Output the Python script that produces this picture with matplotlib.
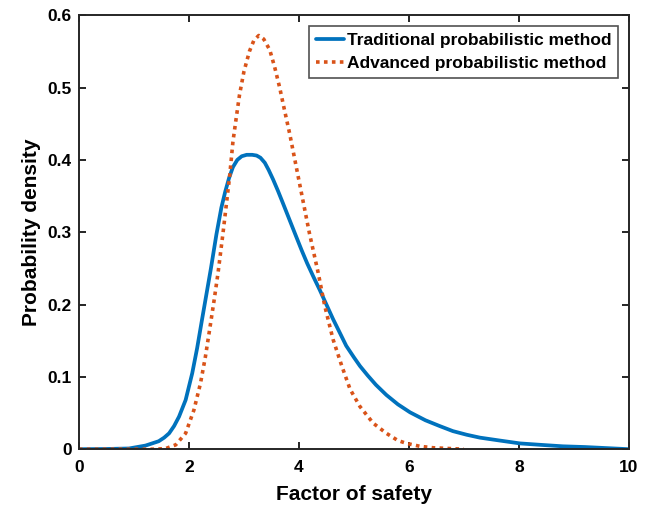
import matplotlib
matplotlib.use("Agg")
import matplotlib.pyplot as plt

plt.rcParams['font.family'] = ['Liberation Sans', 'DejaVu Sans']
plt.rcParams['font.weight'] = 'bold'

# Traditional probabilistic method
trad_x = [0.0, 0.5, 0.91, 1.21, 1.33, 1.45, 1.55, 1.64, 1.73, 1.82, 1.94, 2.06, 2.15, 2.24,
          2.32, 2.40, 2.50, 2.59, 2.66, 2.73, 2.80, 2.88, 2.96, 3.05, 3.15, 3.23, 3.30,
          3.38, 3.45, 3.53, 3.62, 3.71, 3.83, 3.95, 4.05, 4.15, 4.26, 4.38, 4.50, 4.62,
          4.75, 4.86, 5.00, 5.11, 5.25, 5.40, 5.59, 5.80, 6.02, 6.30, 6.56, 6.80, 7.05,
          7.29, 7.65, 8.02, 8.40, 8.80, 9.20, 9.60, 10.0]
trad_y = [0.0, 0.0003, 0.001, 0.005, 0.008, 0.011, 0.016, 0.022, 0.032, 0.045, 0.068, 0.105,
          0.140, 0.180, 0.215, 0.250, 0.297, 0.334, 0.356, 0.375, 0.390, 0.400, 0.405,
          0.407, 0.407, 0.406, 0.403, 0.396, 0.386, 0.373, 0.357, 0.340, 0.317, 0.294,
          0.275, 0.257, 0.239, 0.220, 0.200, 0.180, 0.160, 0.143, 0.127, 0.115, 0.102,
          0.089, 0.075, 0.062, 0.051, 0.040, 0.032, 0.025, 0.020, 0.016, 0.012, 0.008,
          0.006, 0.004, 0.003, 0.0015, 0.0]

# Advanced probabilistic method
adv_x = [0.0, 1.0, 1.40, 1.58, 1.76, 1.94, 2.09, 2.21, 2.30, 2.39, 2.46, 2.53, 2.62, 2.68,
         2.74, 2.80, 2.86, 2.92, 3.00, 3.10, 3.18, 3.27, 3.36, 3.47, 3.56, 3.65, 3.74,
         3.83, 3.95, 4.07, 4.19, 4.35, 4.47, 4.62, 4.78, 4.93, 5.11, 5.35, 5.59, 5.80,
         5.96, 6.20, 6.44, 7.0]
adv_y = [0.0, 0.0, 0.0, 0.001, 0.006, 0.022, 0.054, 0.091, 0.128, 0.172, 0.207, 0.244,
         0.299, 0.338, 0.377, 0.425, 0.458, 0.490, 0.522, 0.550, 0.565, 0.572, 0.567,
         0.552, 0.528, 0.500, 0.468, 0.437, 0.391, 0.345, 0.299, 0.244, 0.198, 0.152,
         0.115, 0.083, 0.059, 0.036, 0.022, 0.012, 0.008, 0.004, 0.002, 0.0]

labels = ['Traditional probabilistic method', 'Advanced probabilistic method']
x_ticks = [0, 2, 4, 6, 8, 10]
y_ticks = [0, 0.1, 0.2, 0.3, 0.4, 0.5, 0.6]
y_ticklabels = ['0', '0.1', '0.2', '0.3', '0.4', '0.5', '0.6']

fig = plt.figure(figsize=(6.47, 5.07), dpi=100)
ax = fig.add_axes([0.122, 0.114, 0.850, 0.856])

ax.plot(trad_x, trad_y, color='#0072BD', lw=2.7, label=labels[0],
        solid_joinstyle='round', solid_capstyle='round')
ax.plot(adv_x, adv_y, color='#D95319', lw=2.6, linestyle=(0, (1, 1.2)), label=labels[1])

ax.set_xlim(0, 10)
ax.set_ylim(0, 0.6)
ax.set_xticks(x_ticks)
ax.set_yticks(y_ticks)
ax.set_yticklabels(y_ticklabels)
ax.tick_params(direction='in', top=True, right=True, length=5, width=1.2, labelsize=12.5)
ax.tick_params(axis='x', pad=8)
ax.tick_params(axis='y', pad=5)
for lab in ax.get_xticklabels() + ax.get_yticklabels():
    lab.set_fontweight('bold')
for s in ax.spines.values():
    s.set_linewidth(1.4)
    s.set_color('#262626')

ax.set_xlabel('Factor of safety', fontsize=15, fontweight='bold', labelpad=7)
ax.set_ylabel('Probability density', fontsize=15, fontweight='bold', labelpad=5)

leg = ax.legend(loc='upper right', fontsize=12.5, frameon=True, fancybox=False,
                edgecolor='#262626', handlelength=1.6, handletextpad=0.2,
                borderaxespad=0.6, labelspacing=0.45, borderpad=0.4)
leg.get_frame().set_linewidth(1.2)
for t in leg.get_texts():
    t.set_fontweight('bold')

fig.savefig('out.png', dpi=100)
